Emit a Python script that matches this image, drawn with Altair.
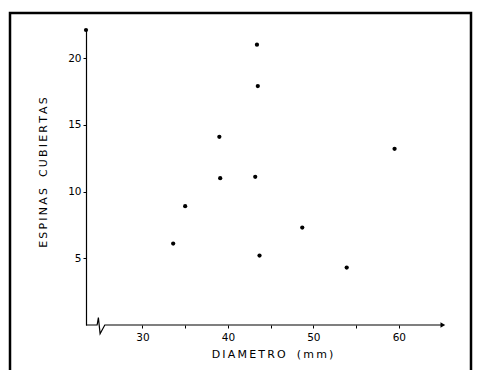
import altair as alt
import pandas as pd

# data
diametro = [43.4, 43.5, 39.0, 59.5, 39.1, 43.2, 35.0, 48.7, 33.6, 43.7, 53.9]
espinas = [21.0, 17.9, 14.1, 13.2, 11.0, 11.1, 8.9, 7.3, 6.1, 5.2, 4.3]

x_ticks = [30, 35, 40, 45, 50, 55, 60]
y_ticks = [5, 10, 15, 20]
x_min, x_max = 23.4, 65.4
y_min, y_max = 0, 22.1

# x-axis line with the break symbol near the origin
axis_x = [23.4, 24.7, 24.85, 25.05, 25.6, 65.0]
axis_y = [0, 0, 0.55, -0.65, 0, 0]

sp = "\u2009"
gap = "\u2002\u2002"
y_title = sp.join("ESPINAS") + gap + sp.join("CUBIERTAS")
x_title = sp.join("DIAMETRO") + gap + sp.join("(mm)")

pts = pd.DataFrame({"x": diametro, "y": espinas})
axis_df = pd.DataFrame({"x": axis_x, "y": axis_y, "o": list(range(len(axis_x)))})
arrow_df = pd.DataFrame({"x": [x_max - 0.25], "y": [0]})
top_df = pd.DataFrame({"x": [x_min], "y": [y_max]})

ink = "#000000"
xs = alt.Scale(domain=[x_min, x_max], nice=False, zero=False)
ys = alt.Scale(domain=[y_min, y_max], nice=False, zero=False)

xaxis = alt.Axis(
    values=x_ticks, grid=False, domain=False, tickSize=3, tickColor=ink,
    labelExpr="datum.value % 10 == 0 ? datum.label : ''",
    labelFont="DejaVu Sans", labelFontSize=10.5, labelColor=ink, labelPadding=4,
    title=x_title, titleFont="DejaVu Sans", titleFontSize=11, titleFontWeight="normal",
    titleColor=ink, titleX=186, titleY=29, titleBaseline="middle", titleAlign="center",
)
yaxis = alt.Axis(
    values=y_ticks, grid=False, domain=True, domainColor=ink, domainWidth=1.2,
    tickSize=3, tickColor=ink,
    labelFont="DejaVu Sans", labelFontSize=10.5, labelColor=ink, labelPadding=2,
    title=y_title, titleFont="DejaVu Sans", titleFontSize=11, titleFontWeight="normal",
    titleColor=ink, titleAngle=-90, titleX=-43, titleY=142, titleBaseline="middle",
    titleAlign="center",
)

points = alt.Chart(pts).mark_circle(size=18, color=ink, opacity=1).encode(
    x=alt.X("x:Q", scale=xs, axis=xaxis),
    y=alt.Y("y:Q", scale=ys, axis=yaxis),
)

axis_line = alt.Chart(axis_df).mark_line(color=ink, strokeWidth=1.2).encode(
    x=alt.X("x:Q", scale=xs), y=alt.Y("y:Q", scale=ys), order="o:Q"
)

arrow = alt.Chart(arrow_df).mark_point(
    shape="triangle-right", filled=True, size=30, color=ink, opacity=1
).encode(x=alt.X("x:Q", scale=xs), y=alt.Y("y:Q", scale=ys))

top_dot = alt.Chart(top_df).mark_circle(size=18, color=ink, opacity=1).encode(
    x=alt.X("x:Q", scale=xs), y=alt.Y("y:Q", scale=ys)
)

frame = alt.Chart(top_df).mark_rect(
    fill=None, stroke=ink, strokeWidth=2.5
).encode(
    x=alt.value(-76), x2=alt.value(385), y=alt.value(-17), y2=alt.value(352)
)

chart = alt.layer(frame, axis_line, arrow, top_dot, points).properties(
    width=359,
    height=295,
    autosize=alt.AutoSizeParams(type="none"),
    padding={"left": 78, "top": 22, "right": 28, "bottom": 45},
    background="white",
).configure_view(strokeWidth=0, stroke="transparent")

chart.save("out.html", embed_options={"renderer": "svg", "actions": False})
